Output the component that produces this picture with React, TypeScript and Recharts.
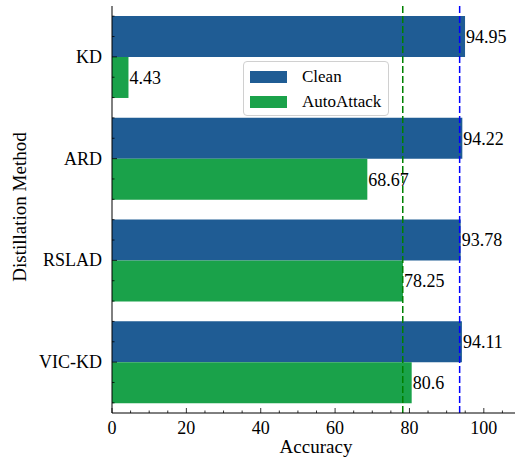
import React from 'react';
import {
  BarChart,
  Bar,
  XAxis,
  YAxis,
  Legend,
  LabelList,
  ReferenceLine,
} from 'recharts';

const methods = ['KD', 'ARD', 'RSLAD', 'VIC-KD'];
const cleanAcc = [94.95, 94.22, 93.78, 94.11];
const autoAttackAcc = [4.43, 68.67, 78.25, 80.6];
const seriesNames = ['Clean', 'AutoAttack'];
const xTicks = [0, 5, 10, 15, 20, 25, 30, 35, 40, 45, 50, 55, 60, 65, 70, 75, 80, 85, 90, 95, 100, 105, 110];
const cleanRef = 93.5;
const attackRef = 78.2;

const data = methods.map((name, i) => ({
  name,
  clean: cleanAcc[i],
  autoAttack: autoAttackAcc[i],
}));

const FONT = '"Liberation Serif", serif';
const FS = 18;
const CLEAN_COLOR = '#1f5c94';
const ATTACK_COLOR = '#1aa24a';

const WIDTH = 521;
const HEIGHT = 458;
const MARGIN = { top: 6, right: 0, bottom: 0, left: 0 };
const X_AXIS_HEIGHT = 45;
const PLOT_HEIGHT = HEIGHT - MARGIN.top - X_AXIS_HEIGHT;
const BAND = PLOT_HEIGHT / methods.length;

const BottomTick = (props: any) => {
  const { x, y, payload } = props;
  const major = payload.value % 20 === 0;
  return (
    <g>
      <line x1={x} x2={x} y1={y} y2={y - (major ? 5 : 2.5)} stroke="#000" strokeWidth={0.8} />
      {major && payload.value <= 100 && (
        <text x={x} y={y + 20.5} textAnchor="middle" style={{ fontFamily: FONT }} fontSize={FS} fill="#000">
          {payload.value}
        </text>
      )}
    </g>
  );
};

const TopTick = (props: any) => {
  const { x, y, payload } = props;
  const major = payload.value % 20 === 0;
  return <line x1={x} x2={x} y1={y} y2={y + (major ? 5 : 2.5)} stroke="#000" strokeWidth={0.8} />;
};

const LeftTick = (props: any) => {
  const { x, y, payload } = props;
  const minor = [-0.4, -0.2, 0.2, 0.4];
  return (
    <g>
      <line x1={x} x2={x + 5} y1={y} y2={y} stroke="#000" strokeWidth={0.8} />
      {minor.map((m) => (
        <line key={m} x1={x} x2={x + 2.5} y1={y + m * BAND} y2={y + m * BAND} stroke="#000" strokeWidth={0.8} />
      ))}
      <text x={x - 10} y={y + 6} textAnchor="end" style={{ fontFamily: FONT }} fontSize={FS} fill="#000">
        {payload.value}
      </text>
    </g>
  );
};

const LegendBox = (props: any) => {
  const items = [...(props.payload || [])].sort(
    (a: any, b: any) => seriesNames.indexOf(a.value) - seriesNames.indexOf(b.value)
  );
  return (
    <div
      style={{
        width: 146,
        height: 55,
        boxSizing: 'border-box',
        border: '1px solid #d0d0d0',
        borderRadius: 4,
        background: 'rgba(255,255,255,0.8)',
        paddingTop: 2,
        fontFamily: FONT,
        fontSize: 17,
        color: '#000',
      }}
    >
      {items.map((entry: any) => (
        <div key={entry.value} style={{ display: 'flex', alignItems: 'center', height: 25 }}>
          <span style={{ display: 'inline-block', width: 37, height: 12, marginLeft: 6, marginRight: 15, background: entry.color }} />
          <span>{entry.value}</span>
        </div>
      ))}
    </div>
  );
};

const YTitle = () => (
  <text
    x={25.5}
    y={207}
    transform="rotate(-90 25.5 207)"
    textAnchor="middle"
    style={{ fontFamily: FONT }}
    fontSize={19}
    fill="#000"
  >
    Distillation Method
  </text>
);

const XTitle = () => (
  <text x={316} y={453} textAnchor="middle" style={{ fontFamily: FONT }} fontSize={19} fill="#000">
    Accuracy
  </text>
);

const App = () => {
  return (
    <div
      style={{
        position: 'absolute',
        left: 0,
        top: 0,
        width: 515,
        height: HEIGHT,
        overflow: 'hidden',
        background: '#fff',
        fontFamily: FONT,
      }}
    >
      <BarChart
        width={WIDTH}
        height={HEIGHT}
        data={data}
        layout="vertical"
        margin={MARGIN}
        barCategoryGap="9.8%"
        barGap={0}
        style={{ fontFamily: FONT }}
      >
        <XAxis
          type="number"
          domain={[0, 110]}
          ticks={xTicks}
          interval={0}
          height={X_AXIS_HEIGHT}
          tickLine={false}
          tickSize={0}
          tickMargin={0}
          axisLine={{ stroke: '#000', strokeWidth: 1 }}
          tick={<BottomTick />}
          label={XTitle}
          allowDataOverflow
        />
        <XAxis
          xAxisId="top"
          orientation="top"
          type="number"
          domain={[0, 110]}
          ticks={xTicks}
          interval={0}
          height={0}
          tickLine={false}
          tickSize={0}
          tickMargin={0}
          axisLine={{ stroke: '#000', strokeWidth: 1 }}
          tick={<TopTick />}
        />
        <YAxis
          type="category"
          dataKey="name"
          width={112}
          tickLine={false}
          tickSize={0}
          tickMargin={0}
          axisLine={{ stroke: '#000', strokeWidth: 1 }}
          tick={<LeftTick />}
          label={YTitle}
        />
        <Legend
          verticalAlign="middle"
          align="center"
          layout="vertical"
          wrapperStyle={{ left: 243, top: 61, width: 146, height: 55 }}
          content={<LegendBox />}
        />
        <Bar dataKey="clean" name="Clean" fill={CLEAN_COLOR} isAnimationActive={false}>
          <LabelList dataKey="clean" position="right" offset={1} style={{ fontFamily: FONT }} fontSize={FS} fill="#000" />
        </Bar>
        <Bar dataKey="autoAttack" name="AutoAttack" fill={ATTACK_COLOR} isAnimationActive={false}>
          <LabelList dataKey="autoAttack" position="right" offset={1} style={{ fontFamily: FONT }} fontSize={FS} fill="#000" />
        </Bar>
        <ReferenceLine x={attackRef} stroke="#008000" strokeWidth={1.5} strokeDasharray="7 3" />
        <ReferenceLine x={cleanRef} stroke="#0000ff" strokeWidth={1.5} strokeDasharray="7 3" />
      </BarChart>
    </div>
  );
};

export default App;
